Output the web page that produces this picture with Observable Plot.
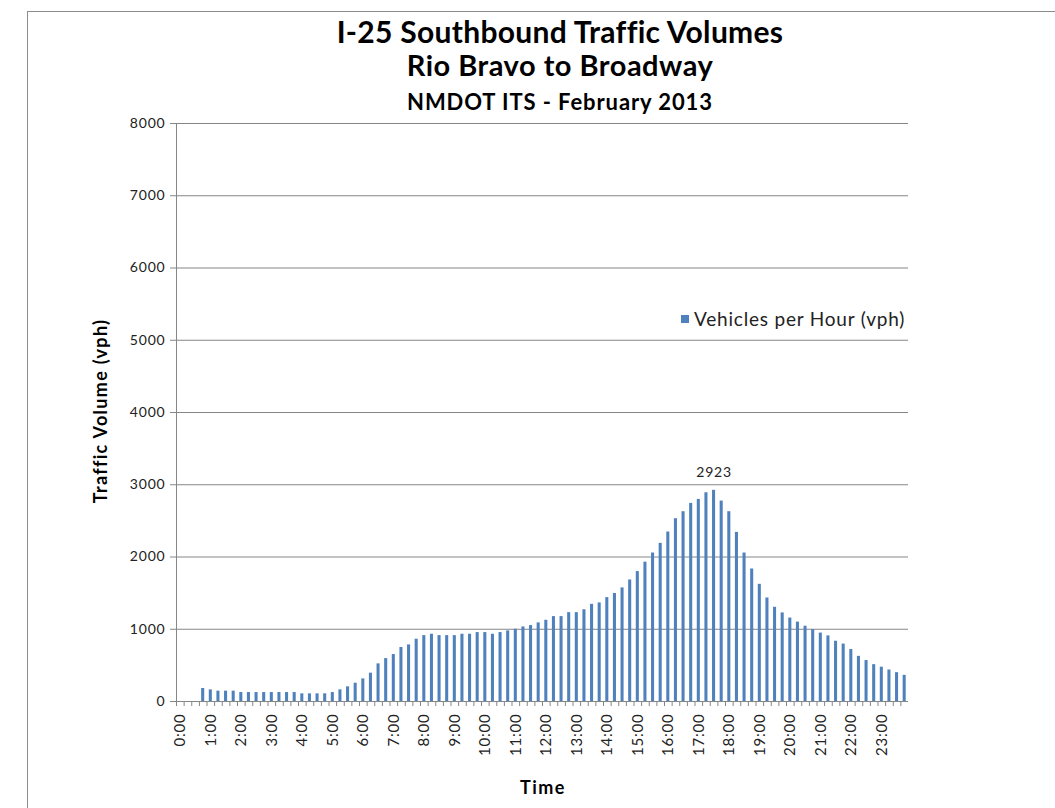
<!DOCTYPE html>
<html>
<head>
<meta charset="utf-8">
<script src="https://cdn.jsdelivr.net/npm/d3@7"></script>
<script src="https://cdn.jsdelivr.net/npm/@observablehq/plot@0.6"></script>
<style>
  body { margin: 0; background: #fff; font-family: Lato, "Open Sans", sans-serif; }
  #wrap { position: relative; width: 1055px; height: 808px; overflow: hidden; background: #fff; }
  #frame { position: absolute; left: 27px; top: 11px; width: 1100px; height: 900px; border: 1px solid #8c8c8c; }
  .t { position: absolute; left: 0; width: 1120px; text-align: center; font-weight: bold; color: #000; line-height: 1; white-space: nowrap; }
  #t1 { top: 16px; font-size: 30px; letter-spacing: 0.3px; }
  #t2 { top: 50px; font-size: 29px; letter-spacing: 0.5px; }
  #t3 { top: 91px; font-size: 22px; letter-spacing: 0.9px; }
  #chart { position: absolute; left: 0; top: 112px; }
  #legend { position: absolute; left: 681px; top: 307px; font-size: 19px; letter-spacing: 0.8px; color: #222; display: flex; align-items: center; }
  #legend .sw { width: 8px; height: 8px; background: #4F81BD; margin-right: 5px; }
  #ylab { position: absolute; left: 100px; top: 411px; transform: translate(-50%, -50%) rotate(-90deg); font-weight: bold; font-size: 18px; letter-spacing: 1.3px; white-space: nowrap; }
  #xlab { position: absolute; left: 543px; top: 787px; transform: translate(-50%, -50%); font-weight: bold; font-size: 18px; letter-spacing: 1.5px; }
</style>
</head>
<body>
<div id="wrap">
  <div id="frame"></div>
  <div class="t" id="t1">I-25 Southbound Traffic Volumes</div>
  <div class="t" id="t2">Rio Bravo to Broadway</div>
  <div class="t" id="t3">NMDOT ITS - February 2013</div>
  <div id="chart"></div>
  <div id="legend"><div class="sw"></div><span>Vehicles per Hour (vph)</span></div>
  <div id="ylab">Traffic Volume (vph)</div>
  <div id="xlab">Time</div>
</div>
<script>
// 15-minute intervals, 0:00 .. 23:45
const times = d3.range(96).map(i => `${Math.floor(i / 4)}:${String((i % 4) * 15).padStart(2, "0")}`);

const hourLabels = ["0:00","1:00","2:00","3:00","4:00","5:00","6:00","7:00","8:00","9:00","10:00","11:00",
  "12:00","13:00","14:00","15:00","16:00","17:00","18:00","19:00","20:00","21:00","22:00","23:00"];

const yTicks = [0, 1000, 2000, 3000, 4000, 5000, 6000, 7000, 8000];

const vph = [
  0, 0, 0, 180,  161, 143, 143, 143,
  124, 124, 124, 124,  124, 124, 124, 124,
  106, 106, 106, 106,  124, 161, 203, 253,
  313, 392, 521, 594,  650, 747, 783, 862,
  912, 931, 912, 912,  912, 931, 931, 954,
  954, 931, 954, 977,  1000, 1032, 1051, 1088,
  1124, 1175, 1175, 1230,  1230, 1270, 1345, 1364,
  1438, 1495, 1572, 1682,  1798, 1928, 2055, 2189,
  2346, 2530, 2627, 2742,  2797, 2889, 2923, 2774,
  2627, 2341, 2055, 1834,  1622, 1433, 1304, 1226,
  1155, 1099, 1042, 995,  947, 908, 834, 795,
  719, 625, 567, 510,  475, 436, 399, 362
];

const data = times.map((t, i) => ({time: t, vph: vph[i]}));
const peak = data.filter(d => d.vph === d3.max(vph));

const W = 1055, ML = 176, MR = 147;
const step = (W - ML - MR) / times.length;

const chart = Plot.plot({
  width: W,
  height: 696,
  marginLeft: ML,
  marginRight: MR,
  marginTop: 11,
  marginBottom: 107,
  style: {fontFamily: "Lato, 'Open Sans', sans-serif", fontSize: "14px", letterSpacing: "0.8px", color: "#000", background: "transparent"},
  x: {domain: times, paddingInner: 0.6, paddingOuter: 0.3},
  y: {domain: [0, 8000]},
  marks: [
    Plot.gridY(yTicks, {stroke: "#868686", strokeOpacity: 1}),
    Plot.barY(data, {x: "time", y: "vph", fill: "#4F81BD"}),
    Plot.ruleY([0], {stroke: "#868686"}),
    Plot.frame({anchor: "left", stroke: "#868686"}),
    Plot.axisY(yTicks, {tickSize: 6, tickPadding: 5, stroke: "#868686", fill: "#222", tickFormat: d => String(d), label: null}),
    Plot.axisX(times, {tickSize: 5, tickFormat: () => "", stroke: "#868686", dx: -step / 2, label: null}),
    Plot.axisX(hourLabels, {tickSize: 0, tickPadding: 12, tickRotate: -90, fill: "#222", fontSize: 15, label: null}),
    Plot.text(peak, {x: "time", y: "vph", text: d => String(d.vph), dy: -18, fill: "#222", fontSize: 14})
  ]
});
document.getElementById("chart").appendChild(chart);
</script>
</body>
</html>
